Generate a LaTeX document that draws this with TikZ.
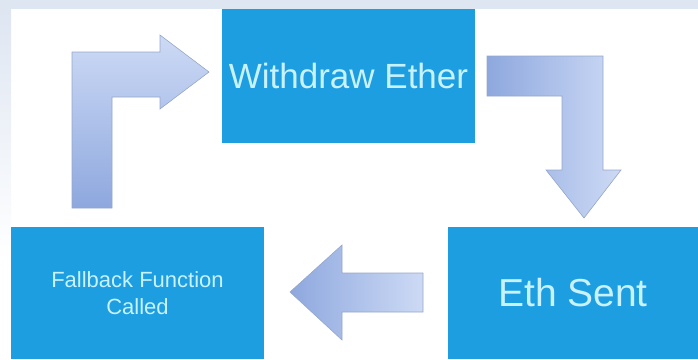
\documentclass[tikz,border=0pt]{standalone}
\usepackage{fontspec}
\setmainfont{Liberation Sans}
\usepackage{tikz}
\usepackage{xcolor}

\definecolor{boxblue}{RGB}{28,158,224}
\definecolor{boxtext}{RGB}{200,242,255}
\definecolor{bandblue}{RGB}{222,230,242}
\definecolor{arrowdark}{RGB}{142,168,222}
\definecolor{arrowlight}{RGB}{205,218,245}
\definecolor{arrowedge}{RGB}{150,166,200}

\begin{document}
\begin{tikzpicture}[x=1pt, y=-1pt,
    box/.style={rectangle, fill=boxblue, text=boxtext, inner sep=0pt, align=center},
    blockarrow/.style={draw=arrowedge, line width=0.6pt, line join=miter}]
                \useasboundingbox (0,0) rectangle (698,359);
                % frame at the top and left
                \fill[bandblue] (0,0) rectangle (698,9);
                \shade[top color=bandblue, bottom color=white] (0,9) rectangle (11,260);

                \node[box, minimum width=253pt, minimum height=134pt, font=\fontsize{35}{40}\selectfont] (withdraw) at (348.5,76) {Withdraw Ether};
                \node[box, minimum width=250pt, minimum height=132pt, font=\fontsize{39}{44}\selectfont] (sent) at (573,293) {Eth Sent};
                \node[box, minimum width=253pt, minimum height=132pt, font=\fontsize{22}{27}\selectfont] (fallback) at (137.5,293) {Fallback Function\\Called};

                % fallback -> withdraw
                \shade[blockarrow, top color=arrowlight, bottom color=arrowdark]
                    (72,208) -- (72,52) -- (160,52) -- (160,35) -- (209,72) -- (160,109) -- (160,97) -- (112,97) -- (112,208) -- cycle;
                % withdraw -> sent
                \shade[blockarrow, left color=arrowdark, right color=arrowlight]
                    (487,56) -- (603,56) -- (603,170) -- (621,170) -- (584,218) -- (546,170) -- (562,170) -- (562,96) -- (487,96) -- cycle;
                % sent -> fallback
                \shade[blockarrow, left color=arrowdark, right color=arrowlight]
                    (423,273) -- (342,273) -- (342,245) -- (290,292) -- (342,340) -- (342,312) -- (423,312) -- cycle;
            \end{tikzpicture}
\end{document}
